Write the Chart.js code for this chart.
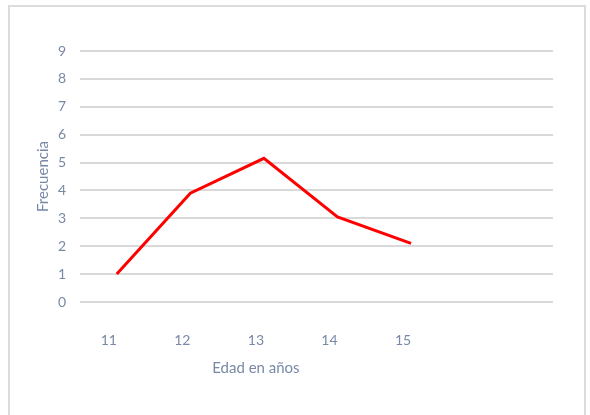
<!DOCTYPE html>
<html>
<head>
<meta charset="utf-8">
<script src="https://cdn.jsdelivr.net/npm/chart.js@4"></script>
<style>
  html, body { margin: 0; padding: 0; background: #fff; }
  #wrap { position: relative; width: 590px; height: 415px; overflow: hidden; }
  #wrap canvas { position: absolute; left: 0; top: 0; }
  #frame { position: absolute; left: 8px; top: 5px; width: 578px; height: 440px;
           border: 2px solid #dcdcdc; box-sizing: border-box; pointer-events: none; }
</style>
</head>
<body>
<div id="wrap">
  <canvas id="chart" width="590" height="415"></canvas>
  <div id="frame"></div>
</div>
<script>
// Ages (x) and frequency of each age (y)
const ages = [11, 12, 13, 14, 15];
const frecuencia = [1, 3.9, 5.15, 3.05, 2.1];
const yTickValues = [0, 1, 2, 3, 4, 5, 6, 7, 8, 9];
const xTitle = 'Edad en años';
const yTitle = 'Frecuencia';

const textColor = '#7889a6';
const fontFamily = 'Lato, "Open Sans", sans-serif';
const xLabelShift = -8;

// Draws the x axis caption centred under the age range
const xCaption = {
  id: 'xCaption',
  afterDraw(chart) {
    const xs = chart.scales.x;
    const ctx = chart.ctx;
    const cx = (xs.getPixelForValue(ages[0]) + xs.getPixelForValue(ages[ages.length - 1])) / 2 + xLabelShift;
    ctx.save();
    ctx.font = '15px ' + fontFamily;
    ctx.fillStyle = textColor;
    ctx.textAlign = 'center';
    ctx.textBaseline = 'middle';
    ctx.fillText(xTitle, cx, xs.bottom - 47);
    ctx.restore();
  }
};

new Chart(document.getElementById('chart'), {
  type: 'line',
  data: {
    datasets: [{
      data: ages.map((a, i) => ({ x: a, y: frecuencia[i] })),
      borderColor: '#ff0000',
      borderWidth: 3,
      pointRadius: 0,
      tension: 0,
      fill: false
    }]
  },
  options: {
    responsive: false,
    animation: false,
    devicePixelRatio: 1,
    layout: { padding: { top: 51, right: 37, left: 0, bottom: 0 } },
    plugins: { legend: { display: false }, tooltip: { enabled: false } },
    scales: {
      x: {
        type: 'linear',
        min: 10.5,
        max: 16.93,
        afterBuildTicks: s => { s.ticks = ages.map(v => ({ value: v })); },
        afterFit: s => { s.height = 113; },
        grid: { display: false, drawTicks: false },
        border: { display: false },
        ticks: {
          padding: 30,
          labelOffset: xLabelShift,
          color: textColor,
          font: { family: fontFamily, size: 14 },
          callback: v => String(v)
        }
      },
      y: {
        min: 0,
        max: 9,
        afterBuildTicks: s => { s.ticks = yTickValues.map(v => ({ value: v })); },
        afterFit: s => { s.width = 80; },
        grid: { color: '#d9d9d9', lineWidth: 2, drawTicks: false },
        border: { display: false },
        ticks: {
          padding: 14,
          color: textColor,
          font: { family: fontFamily, size: 14 }
        },
        title: {
          display: true,
          text: yTitle,
          color: textColor,
          font: { family: fontFamily, size: 15 },
          padding: { top: 34, bottom: 0 }
        }
      }
    }
  },
  plugins: [xCaption]
});
</script>
</body>
</html>
